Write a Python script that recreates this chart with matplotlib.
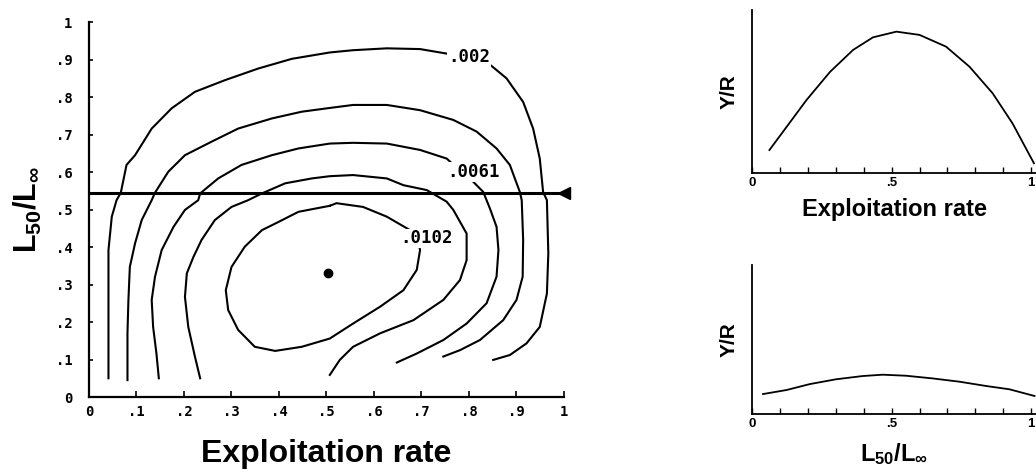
import matplotlib
matplotlib.use("Agg")
import matplotlib.pyplot as plt

plt.rcParams['mathtext.fontset'] = 'custom'
plt.rcParams['mathtext.bf'] = 'Liberation Sans:bold'
plt.rcParams['mathtext.rm'] = 'Liberation Sans'

# Y/R isopleths (exploitation rate, L50/Linf)
c002_x = [0.041, 0.041, 0.041, 0.048, 0.058, 0.067, 0.079, 0.097, 0.132, 0.174, 0.223, 0.286, 0.356,
          0.427, 0.507, 0.556, 0.627, 0.697, 0.753, 0.80, 0.837, 0.879, 0.914, 0.935, 0.949, 0.956,
          0.964, 0.967, 0.964, 0.949, 0.921, 0.886, 0.851]
c002_y = [0.05, 0.259, 0.392, 0.481, 0.525, 0.545, 0.619, 0.645, 0.716, 0.77, 0.814, 0.845, 0.876,
          0.902, 0.919, 0.925, 0.93, 0.928, 0.916, 0.907, 0.894, 0.85, 0.787, 0.716, 0.636, 0.547,
          0.525, 0.383, 0.276, 0.187, 0.143, 0.112, 0.099]

c0041_x = [0.081, 0.081, 0.083, 0.086, 0.097, 0.111, 0.132, 0.139, 0.167, 0.202, 0.258, 0.314, 0.385,
           0.448, 0.507, 0.556, 0.627, 0.697, 0.767, 0.816, 0.858, 0.886, 0.907, 0.911, 0.914, 0.913,
           0.90, 0.872, 0.823, 0.781, 0.746]
c0041_y = [0.045, 0.17, 0.259, 0.347, 0.41, 0.472, 0.525, 0.545, 0.601, 0.645, 0.681, 0.716, 0.743,
           0.761, 0.771, 0.779, 0.779, 0.765, 0.739, 0.708, 0.663, 0.619, 0.547, 0.525, 0.419, 0.321,
           0.259, 0.205, 0.152, 0.125, 0.108]

c0061_x = [0.147, 0.142, 0.135, 0.132, 0.139, 0.153, 0.178, 0.202, 0.23, 0.234, 0.272, 0.321, 0.385,
           0.441, 0.507, 0.556, 0.627, 0.697, 0.753, 0.78, 0.809, 0.83, 0.844, 0.858, 0.862, 0.858,
           0.837, 0.795, 0.746, 0.69, 0.648]
c0061_y = [0.05, 0.116, 0.187, 0.259, 0.321, 0.392, 0.454, 0.499, 0.525, 0.543, 0.583, 0.619, 0.645,
           0.663, 0.676, 0.678, 0.676, 0.659, 0.636, 0.605, 0.574, 0.547, 0.503, 0.454, 0.392, 0.321,
           0.25, 0.196, 0.152, 0.116, 0.092]

c0082_x = [0.234, 0.223, 0.209, 0.202, 0.206, 0.22, 0.237, 0.265, 0.30, 0.335, 0.364, 0.413, 0.469,
           0.507, 0.556, 0.627, 0.662, 0.711, 0.753, 0.767, 0.795, 0.795, 0.781, 0.746, 0.683, 0.613,
           0.556, 0.528, 0.507]
c0082_y = [0.05, 0.108, 0.187, 0.267, 0.33, 0.374, 0.419, 0.472, 0.507, 0.525, 0.543, 0.57, 0.583,
           0.589, 0.592, 0.583, 0.565, 0.552, 0.521, 0.499, 0.436, 0.365, 0.312, 0.259, 0.205, 0.17,
           0.134, 0.099, 0.059]

c0102_x = [0.507, 0.441, 0.399, 0.364, 0.328, 0.30, 0.288, 0.293, 0.314, 0.349, 0.392, 0.448, 0.507,
           0.556, 0.613, 0.662, 0.69, 0.697, 0.692, 0.676, 0.627, 0.577, 0.521, 0.507]
c0102_y = [0.51, 0.494, 0.467, 0.445, 0.401, 0.347, 0.285, 0.232, 0.179, 0.134, 0.123, 0.134, 0.156,
           0.196, 0.241, 0.285, 0.339, 0.392, 0.42, 0.445, 0.481, 0.507, 0.517, 0.51]

contour_labels = ['.002', '.0061', '.0102']
label_x = [0.80, 0.81, 0.71]
label_y = [0.907, 0.60, 0.423]

section_L = 0.545      # L50/Linf of the horizontal section
opt_E, opt_L = 0.503, 0.33

left_ticks = [0, .1, .2, .3, .4, .5, .6, .7, .8, .9, 1]
left_ticklabels = ['0', '.1', '.2', '.3', '.4', '.5', '.6', '.7', '.8', '.9', '1']

# side panels (relative Y/R)
top_E = [0.062, 0.124, 0.195, 0.279, 0.362, 0.433, 0.517, 0.60, 0.695, 0.779, 0.862, 0.933, 1.01]
top_yr = [0.141, 0.284, 0.448, 0.62, 0.755, 0.832, 0.867, 0.847, 0.775, 0.652, 0.489, 0.305, 0.06]
bot_L = [0.039, 0.123, 0.207, 0.30, 0.396, 0.468, 0.552, 0.647, 0.743, 0.839, 0.922, 1.012]
bot_yr = [0.134, 0.161, 0.201, 0.233, 0.255, 0.264, 0.257, 0.239, 0.217, 0.188, 0.166, 0.121]
side_ticks = [0, .1, .2, .3, .4, .5, .6, .7, .8, .9, 1]
side_ticklabels = ['0', '', '', '', '', '.5', '', '', '', '', '1']

mono = {'family': 'DejaVu Sans Mono', 'weight': 'bold'}
sans = {'family': 'Liberation Sans', 'weight': 'bold'}
L_label = r'$\mathbf{L_{50}/L_{\infty}}$'

fig = plt.figure(figsize=(10.36, 4.74), dpi=100)

ax = fig.add_axes([0.0859, 0.1624, 0.4585, 0.791])
for cx, cy in [(c002_x, c002_y), (c0041_x, c0041_y), (c0061_x, c0061_y),
               (c0082_x, c0082_y), (c0102_x, c0102_y)]:
    ax.plot(cx, cy, color='black', lw=1.5, solid_joinstyle='round')
for t, lx, ly in zip(contour_labels, label_x, label_y):
    ax.text(lx, ly, t, ha='center', va='center', fontsize=12.5, fontdict=mono,
            bbox=dict(facecolor='white', edgecolor='none', pad=0.5))
ax.plot([0, 1], [section_L, section_L], color='black', lw=2.2)
ax.plot([1.0], [section_L], marker='<', color='black', ms=8, clip_on=False)
ax.plot([opt_E], [opt_L], 'o', color='black', ms=6)

ax.set_xlim(0, 1)
ax.set_ylim(0, 1)
for s in ['top', 'right']:
    ax.spines[s].set_visible(False)
for s in ['left', 'bottom']:
    ax.spines[s].set_linewidth(1.6)
ax.set_xticks(left_ticks)
ax.set_xticklabels(left_ticklabels, fontdict=mono, fontsize=10)
ax.set_yticks(left_ticks)
ax.set_yticklabels(left_ticklabels, fontdict=mono, fontsize=10)
ax.tick_params(axis='x', direction='in', length=4, width=1.2, pad=6)
ax.tick_params(axis='y', direction='in', length=3, width=1.2, pad=12)
ax.set_xlabel('Exploitation rate', fontdict=sans, fontsize=23, labelpad=14)
ax.set_ylabel(L_label, fontsize=22, labelpad=8)

for rect, xs, ys, xl, pad in [([0.726, 0.635, 0.2747, 0.344], top_E, top_yr, 'Exploitation rate', 6),
                              ([0.726, 0.1266, 0.2747, 0.314], bot_L, bot_yr, L_label, 8)]:
    a = fig.add_axes(rect)
    a.plot(xs, ys, color='black', lw=1.3, clip_on=False)
    a.set_xlim(0, 1.02)
    a.set_ylim(0, 1)
    for s in ['top', 'right']:
        a.spines[s].set_visible(False)
    for s in ['left', 'bottom']:
        a.spines[s].set_linewidth(1.3)
    a.set_xticks(side_ticks)
    a.set_xticklabels(side_ticklabels, fontdict=sans, fontsize=9.5)
    a.set_yticks([])
    a.tick_params(axis='x', direction='in', length=4, width=1.0, pad=3)
    a.set_ylabel('Y/R', fontdict=sans, fontsize=15, labelpad=10)
    if xl == L_label:
        a.set_xlabel(xl, fontsize=17, labelpad=pad)
    else:
        a.set_xlabel(xl, fontdict=sans, fontsize=17, labelpad=pad)

fig.savefig('out.png', dpi=100, facecolor='white')
